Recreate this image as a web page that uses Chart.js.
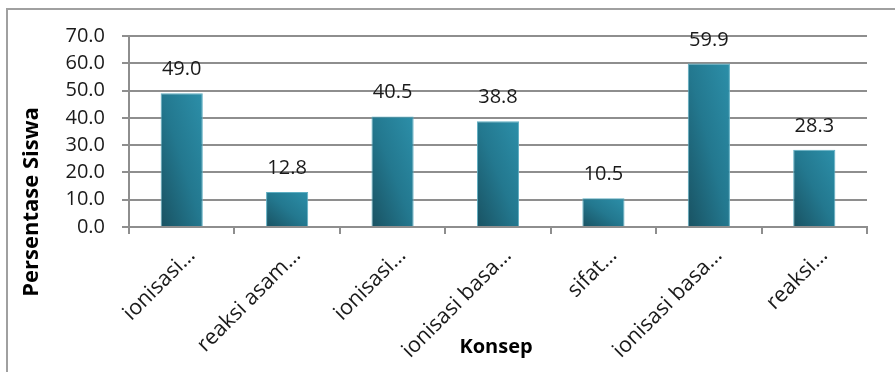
<!DOCTYPE html>
<html>
<head>
<meta charset="utf-8">
<script src="https://cdn.jsdelivr.net/npm/chart.js@4.4.1/dist/chart.umd.min.js"></script>
<style>
  html, body { margin: 0; padding: 0; background: #fff; overflow: hidden; }
  #wrap { position: relative; width: 895px; height: 372px; }
  #frame { position: absolute; left: 6px; top: 8px; width: 1000px; height: 500px;
           border-top: 2px solid #a0a0a0; border-left: 2px solid #a0a0a0; }
  #c { position: absolute; left: 0; top: 0; }
</style>
</head>
<body>
<div id="wrap">
  <div id="frame"></div>
  <canvas id="c" width="895" height="372"></canvas>
</div>
<script>
const categories = ['ionisasi…', 'reaksi asam…', 'ionisasi…', 'ionisasi basa…', 'sifat…', 'ionisasi basa…', 'reaksi…'];
const values = [49.0, 12.8, 40.5, 38.8, 10.5, 59.9, 28.3];
const yTicks = [0, 10, 20, 30, 40, 50, 60, 70];
const yTitle = 'Persentase Siswa';
const xTitle = 'Konsep';

const fontFamily = '"Open Sans", sans-serif';
const gridColor = '#8e8e8e';

// diagonal shading stretched to each bar's box: dark bottom-left, light top-right
function barGradient(context) {
    const chart = context.chart;
    if (!chart.chartArea) return '#2a8aa2';
    const x = chart.scales.x.getPixelForValue(context.dataIndex);
    const top = chart.scales.y.getPixelForValue(values[context.dataIndex]);
    const bottom = chart.scales.y.getPixelForValue(0);
    const w = 42;
    const h = Math.max(bottom - top, 1);
    const s = 2 / (1 / (w * w) + 1 / (h * h));
    const x0 = x - w / 2;
    const g = chart.ctx.createLinearGradient(x0, bottom, x0 + s / w, bottom - s / h);
    g.addColorStop(0, '#195262');
    g.addColorStop(0.5, '#23788f');
    g.addColorStop(1, '#2c8fa9');
    return g;
}

// values printed above each bar
const valueLabels = {
    id: 'valueLabels',
    afterDatasetsDraw(chart) {
        const ctx = chart.ctx;
        const meta = chart.getDatasetMeta(0);
        ctx.save();
        ctx.font = '20px ' + fontFamily;
        ctx.fillStyle = '#1a1a1a';
        ctx.textAlign = 'center';
        ctx.textBaseline = 'alphabetic';
        meta.data.forEach((bar, i) => {
            ctx.fillText(values[i].toFixed(1), bar.x, bar.y - 18);
        });
        ctx.restore();
    }
};

// axis titles
const axisTitles = {
    id: 'axisTitles',
    afterDraw(chart) {
        const ctx = chart.ctx;
        ctx.save();
        ctx.font = 'bold 22px ' + fontFamily;
        ctx.fillStyle = '#000';
        ctx.textAlign = 'center';
        ctx.textBaseline = 'middle';
        ctx.translate(32, 202);
        ctx.rotate(-Math.PI / 2);
        ctx.fillText(yTitle, 0, 0);
        ctx.restore();

        ctx.save();
        ctx.font = 'bold 20px ' + fontFamily;
        ctx.fillStyle = '#000';
        ctx.textAlign = 'center';
        ctx.textBaseline = 'middle';
        ctx.fillText(xTitle, 496, 347);
        ctx.restore();
    }
};

const chart = new Chart(document.getElementById('c'), {
    type: 'bar',
    data: {
        labels: categories,
        datasets: [{
            label: yTitle,
            data: values,
            backgroundColor: barGradient,
            borderColor: '#5eaec2',
            borderWidth: 1,
            categoryPercentage: 1,
            barPercentage: 0.4
        }]
    },
    options: {
        responsive: false,
        animation: false,
        layout: { padding: { left: 0, top: 36, right: 28, bottom: 0 } },
        plugins: {
            legend: { display: false },
            tooltip: { enabled: false }
        },
        scales: {
            x: {
                grid: {
                    offset: true,
                    drawOnChartArea: false,
                    drawTicks: true,
                    tickLength: 7,
                    color: gridColor,
                    lineWidth: 2
                },
                border: { color: gridColor, width: 2 },
                ticks: {
                    maxRotation: 45,
                    minRotation: 45,
                    autoSkip: false,
                    padding: 9,
                    labelOffset: 10,
                    color: '#1a1a1a',
                    font: { family: fontFamily, size: 21.5 }
                },
                afterFit(scale) { scale.height = 145; }
            },
            y: {
                min: 0,
                max: 70,
                afterBuildTicks(scale) { scale.ticks = yTicks.map(v => ({ value: v })); },
                grid: {
                    color: gridColor,
                    lineWidth: 2,
                    tickLength: 7
                },
                border: { color: gridColor, width: 2 },
                ticks: {
                    padding: 17,
                    color: '#1a1a1a',
                    font: { family: fontFamily, size: 20 },
                    callback: v => Number(v).toFixed(1)
                },
                afterFit(scale) { scale.width = 129; }
            }
        }
    },
    plugins: [valueLabels, axisTitles]
});
</script>
</body>
</html>
